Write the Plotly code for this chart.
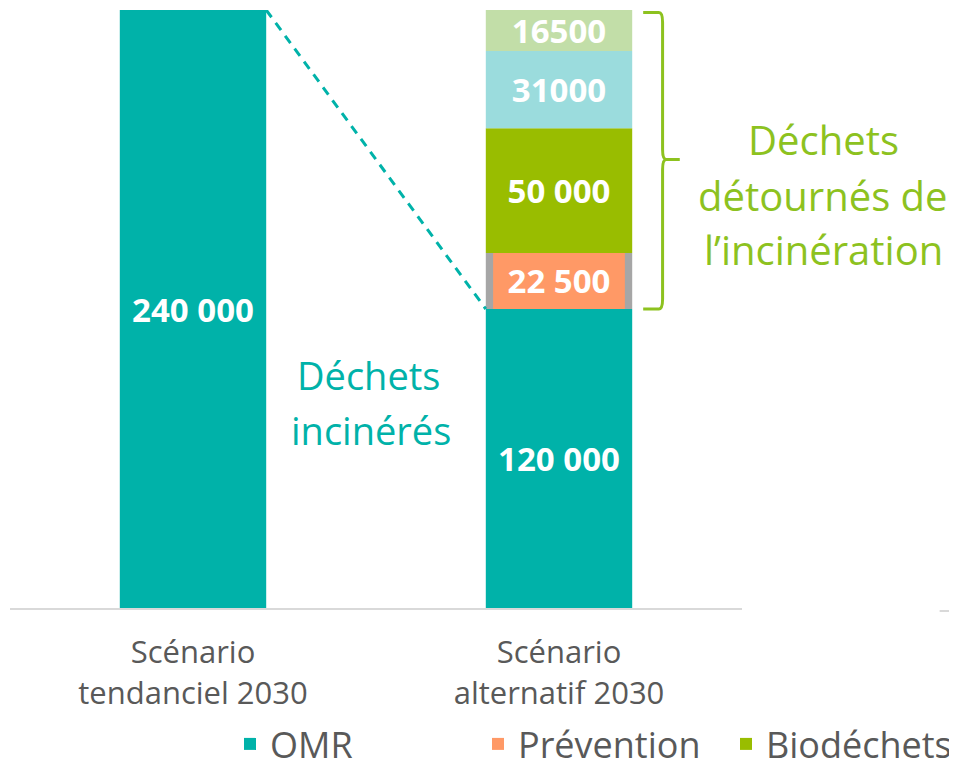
import plotly.graph_objects as go

# ---- data ----
categories = [0, 1]
category_labels = ["Scénario<br>tendanciel 2030", "Scénario<br>alternatif 2030"]
omr_values = [240000, 120000]
omr_labels = ["240 000", "120 000"]
prevention_value = 22500
prevention_label = "22 500"
biodechets_value = 50000
biodechets_label = "50 000"
bleu_value = 31000
bleu_label = "31000"
vert_value = 16500
vert_label = "16500"

TEAL = "#00B2A9"
ORANGE = "#FF9966"
GREEN = "#99BD00"
LBLUE = "#9BDCDD"
LGREEN = "#C2DEA8"
GRAY = "#A6A6A6"
TXT_GREEN = "#8DC21F"

BW = 0.4
NUM_FONT = dict(family="Open Sans", size=33, color="white")

alt = categories[1]
base_prev = omr_values[1]
base_bio = base_prev + prevention_value
base_lb = base_bio + biodechets_value
base_lg = base_lb + bleu_value
top_alt = base_lg + vert_value

fig = go.Figure()

fig.add_trace(go.Bar(
    x=categories, y=omr_values, base=[0, 0], width=BW, name="OMR",
    marker=dict(color=TEAL, line=dict(width=0)),
    text=[f"<b>{t}</b>" for t in omr_labels], textposition="inside",
    insidetextanchor="middle", textangle=0, constraintext="none",
    textfont=NUM_FONT, hoverinfo="skip"))

fig.add_trace(go.Bar(
    x=[alt], y=[prevention_value], base=[base_prev], width=BW, name="",
    marker=dict(color=GRAY, line=dict(width=0)), showlegend=False, hoverinfo="skip"))

fig.add_trace(go.Bar(
    x=[alt], y=[prevention_value], base=[base_prev], width=BW * 0.9, name="Prévention",
    marker=dict(color=ORANGE, line=dict(width=0)),
    text=[f"<b>{prevention_label}</b>"], textposition="inside",
    insidetextanchor="middle", textangle=0, constraintext="none",
    textfont=NUM_FONT, hoverinfo="skip"))

fig.add_trace(go.Bar(
    x=[alt], y=[biodechets_value], base=[base_bio], width=BW, name="Biodéchets",
    marker=dict(color=GREEN, line=dict(width=0)),
    text=[f"<b>{biodechets_label}</b>"], textposition="inside",
    insidetextanchor="middle", textangle=0, constraintext="none",
    textfont=NUM_FONT, hoverinfo="skip"))

fig.add_trace(go.Bar(
    x=[alt], y=[bleu_value], base=[base_lb], width=BW, name="",
    marker=dict(color=LBLUE, line=dict(width=0)), showlegend=False,
    text=[f"<b>{bleu_label}</b>"], textposition="inside",
    insidetextanchor="middle", textangle=0, constraintext="none",
    textfont=NUM_FONT, hoverinfo="skip"))

fig.add_trace(go.Bar(
    x=[alt], y=[vert_value], base=[base_lg], width=BW, name="",
    marker=dict(color=LGREEN, line=dict(width=0)), showlegend=False,
    text=[f"<b>{vert_label}</b>"], textposition="inside",
    insidetextanchor="middle", textangle=0, constraintext="none",
    textfont=NUM_FONT, hoverinfo="skip"))

# dashed connector from top of tendanciel bar to top of OMR alternatif
fig.add_trace(go.Scatter(
    x=[categories[0] + BW / 2, alt - BW / 2], y=[omr_values[0], omr_values[1]],
    mode="lines", line=dict(color=TEAL, width=3, dash="9px,7px"),
    showlegend=False, hoverinfo="skip", cliponaxis=False))

# bracket for diverted waste
bx0, bx1, bxm = 1.23, 1.283, 1.33
mid = (base_prev + top_alt) / 2
r = 4000
path = (f"M {bx0},{top_alt - 1000} L {bx1 - 0.01},{top_alt - 1000} "
        f"Q {bx1},{top_alt - 1000} {bx1},{top_alt - 1000 - r} "
        f"L {bx1},{mid + r} Q {bx1},{mid} {bx1 + 0.01},{mid} L {bxm},{mid} "
        f"M {bx1 + 0.01},{mid} Q {bx1},{mid} {bx1},{mid - r} "
        f"L {bx1},{base_prev + r} Q {bx1},{base_prev} {bx1 - 0.01},{base_prev} "
        f"L {bx0},{base_prev}")

fig.add_shape(type="path", path=path, xref="x", yref="y",
              line=dict(color=TXT_GREEN, width=3))

# stray axis fragment at far right
fig.add_shape(type="line", xref="paper", yref="paper", x0=1.27, x1=1.32, y0=-0.005, y1=-0.005,
              line=dict(color="#D9D9D9", width=2))

def px(xp):
    return (xp - 10) / 732

def py(yp):
    return (608 - yp) / 598

for txt, xx, yy in [("Déchets", 368, 375), ("incinérés", 371, 430)]:
    fig.add_annotation(text=txt, xref="paper", yref="paper", x=px(xx), y=py(yy),
                       showarrow=False, xanchor="center", yanchor="middle",
                       font=dict(family="Open Sans", size=38, color=TEAL))

for txt, xx, yy in [("Déchets", 823, 140), ("détournés de", 823, 195), ("l’incinération", 823, 250)]:
    fig.add_annotation(text=txt, xref="paper", yref="paper", x=px(xx), y=py(yy),
                       showarrow=False, xanchor="center", yanchor="middle",
                       font=dict(family="Open Sans", size=40, color=TXT_GREEN))

fig.update_layout(
    width=949, height=761,
    margin=dict(l=2, r=215, t=2, b=161, autoexpand=False),
    barmode="overlay",
    plot_bgcolor="white", paper_bgcolor="white",
    font=dict(family="Open Sans", color="#595959"),
    xaxis=dict(range=[-0.5, 1.5], tickvals=categories, ticktext=category_labels,
               showgrid=False, zeroline=False, showline=True, linecolor="#D9D9D9",
               linewidth=2, ticks="", ticklabelstandoff=16,
               tickfont=dict(family="Open Sans", size=31, color="#595959")),
    yaxis=dict(range=[0, omr_values[0]], visible=False),
    showlegend=True,
    legend=dict(orientation="h", x=px(974), xanchor="right", y=py(744), yanchor="middle",
                font=dict(family="Open Sans", size=36, color="#595959"),
                entrywidth=203, entrywidthmode="pixels", bgcolor="rgba(0,0,0,0)",
                traceorder="normal"),
)

fig.write_html("out.html")
